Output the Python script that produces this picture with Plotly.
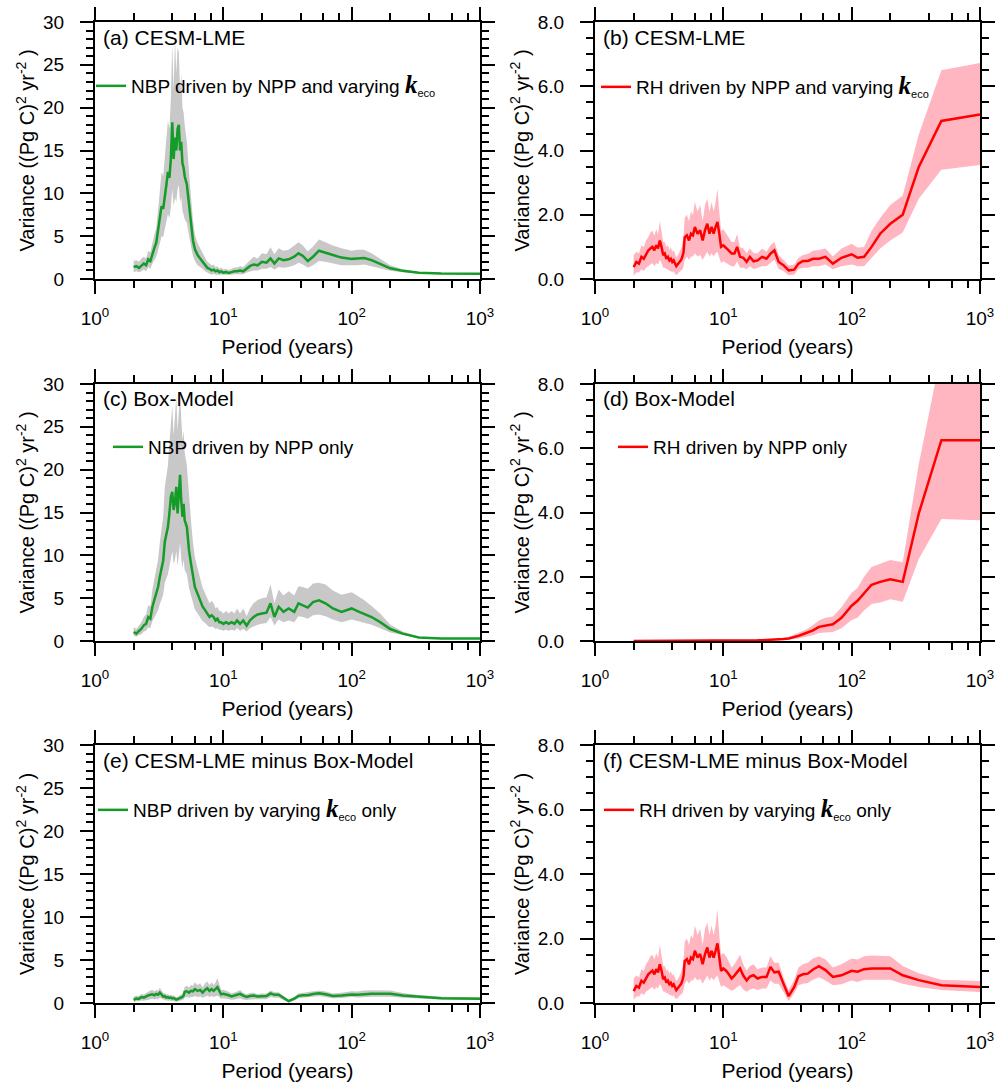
import plotly.graph_objects as go

# ---------------- data ----------------
period = [2.0, 2.1, 2.2, 2.3, 2.4, 2.5, 2.6, 2.7, 2.8, 2.9,
          3.0, 3.1, 3.2, 3.3, 3.4, 3.5, 3.6, 3.7, 3.8, 3.9,
          4.0, 4.1, 4.2, 4.3, 4.4, 4.5, 4.6, 4.7, 4.8, 4.9,
          5.0, 5.2, 5.4, 5.6, 5.8, 6.0, 6.3, 6.6, 6.9, 7.2,
          7.5, 7.8, 8.1, 8.4, 8.7, 9.0, 9.3, 9.6, 10.0, 10.5,
          11.0, 11.6, 12.2, 12.8, 13.5, 14.3, 15.2, 16.1, 17.2, 18.5,
          20.0, 21.7, 23.3, 25.0, 27.0, 29.4, 32.3, 35.7, 38.5, 41.7,
          45.5, 50.0, 55.6, 62.5, 71.4, 83.3, 100.0, 111.1, 125.0, 142.9,
          166.7, 200.0, 250.0, 333.3, 500.0, 1000.0]

# (a) CESM-LME NBP
a_mean = [1.4, 1.5, 1.3, 1.6, 1.8, 1.6, 2.3, 2.1, 3.0, 3.6,
          4.2, 5.5, 7.0, 8.5, 8.2, 10.0, 11.0, 12.5, 11.8, 14.0,
          18.3, 14.0, 16.5, 15.0, 17.5, 18.0, 15.0, 16.0, 13.5, 13.0,
          12.0, 11.0, 8.5, 6.5, 4.5, 3.5, 2.8, 2.4, 2.0, 1.6,
          1.3, 1.2, 1.0, 1.1, 0.9, 1.0, 0.8, 0.9, 0.75, 0.8,
          0.7, 0.8, 0.9, 0.9, 1.0, 0.9, 1.2, 1.5, 1.7, 1.6,
          2.0, 1.9, 2.4, 1.8, 2.4, 2.2, 2.3, 2.6, 3.0, 2.7,
          2.1, 2.6, 3.3, 3.1, 2.8, 2.5, 2.35, 2.4, 2.45, 2.2,
          1.8, 1.25, 0.95, 0.72, 0.63, 0.62]
a_hi = [2.1, 2.2, 2.0, 2.4, 2.6, 2.4, 3.3, 3.1, 4.2, 5.0,
        6.0, 8.0, 10.0, 12.5, 12.0, 14.5, 16.0, 18.5, 17.5, 21.0,
        27.5, 22.0, 28.0, 24.0, 27.0, 26.5, 22.0, 24.0, 20.0, 19.5,
        18.0, 16.0, 12.5, 9.5, 6.8, 5.2, 4.2, 3.6, 3.0, 2.4,
        2.0, 1.8, 1.6, 1.7, 1.4, 1.5, 1.2, 1.35, 1.1, 1.2,
        1.05, 1.2, 1.35, 1.35, 1.5, 1.4, 1.8, 2.2, 2.6, 2.4,
        3.0, 2.9, 3.7, 2.9, 3.6, 3.3, 3.4, 3.9, 4.3, 3.9,
        3.2, 3.8, 4.6, 4.3, 3.9, 3.6, 3.3, 3.4, 3.4, 3.0,
        2.4, 1.6, 1.15, 0.82, 0.7, 0.68]
a_lo = [0.8, 0.9, 0.8, 0.9, 1.1, 0.9, 1.4, 1.2, 1.8, 2.2,
        2.6, 3.3, 4.2, 5.0, 4.9, 6.0, 6.7, 7.6, 7.1, 8.4,
        10.5, 8.5, 9.5, 9.0, 10.5, 11.0, 9.0, 9.5, 8.0, 7.5,
        7.0, 6.5, 5.0, 3.8, 2.7, 2.1, 1.6, 1.4, 1.2, 0.9,
        0.7, 0.6, 0.5, 0.6, 0.5, 0.5, 0.45, 0.5, 0.45, 0.5,
        0.45, 0.5, 0.55, 0.55, 0.6, 0.55, 0.75, 0.9, 1.0, 1.0,
        1.2, 1.2, 1.4, 1.1, 1.4, 1.3, 1.4, 1.6, 1.9, 1.7,
        1.3, 1.6, 2.1, 2.0, 1.8, 1.6, 1.6, 1.6, 1.7, 1.5,
        1.3, 0.95, 0.8, 0.64, 0.56, 0.56]

# (b) CESM-LME RH
b_mean = [0.37, 0.53, 0.48, 0.69, 0.63, 0.79, 0.89, 0.95, 1.0, 0.89,
          1.05, 0.95, 1.2, 1.0, 0.74, 0.79, 0.63, 0.69, 0.58, 0.63,
          0.53, 0.58, 0.46, 0.40, 0.45, 0.5, 0.56, 0.6, 0.7, 0.85,
          1.3, 1.36, 1.2, 1.41, 1.36, 1.62, 1.41, 1.52, 1.2, 1.52,
          1.72, 1.41, 1.62, 1.41, 1.62, 1.78, 1.41, 1.0, 1.05, 0.95,
          0.89, 0.79, 0.79, 1.0, 0.69, 0.66, 0.53, 0.69, 0.55, 0.58,
          0.69, 0.63, 0.79, 0.89, 0.53, 0.43, 0.27, 0.29, 0.48, 0.56,
          0.56, 0.63, 0.63, 0.69, 0.48, 0.66, 0.77, 0.66, 0.69, 1.0,
          1.41, 1.72, 2.0, 3.49, 4.92, 5.12]
b_hi = [0.75, 0.85, 0.8, 1.05, 1.0, 1.2, 1.3, 1.45, 1.5, 1.35,
        1.55, 1.4, 1.8, 1.45, 1.15, 1.15, 1.0, 1.05, 0.9, 1.0,
        0.85, 0.9, 0.75, 0.68, 0.72, 0.8, 0.9, 0.95, 1.1, 1.35,
        1.9, 2.0, 1.8, 2.1, 2.0, 2.4, 2.1, 2.3, 1.8, 2.3,
        2.5, 2.1, 2.4, 2.1, 2.4, 2.8, 2.1, 1.5, 1.55, 1.4,
        1.3, 1.15, 1.15, 1.4, 1.0, 0.95, 0.8, 0.95, 0.8, 0.8,
        0.95, 0.85, 1.05, 1.15, 0.75, 0.6, 0.42, 0.45, 0.65, 0.75,
        0.78, 0.88, 0.9, 0.95, 0.7, 0.95, 1.1, 0.98, 1.0, 1.5,
        1.9, 2.3, 2.6, 4.5, 6.5, 6.72]
b_lo = [0.1, 0.2, 0.2, 0.3, 0.25, 0.35, 0.4, 0.45, 0.5, 0.4,
        0.5, 0.45, 0.6, 0.5, 0.35, 0.35, 0.3, 0.3, 0.25, 0.25,
        0.2, 0.25, 0.15, 0.13, 0.15, 0.2, 0.25, 0.27, 0.3, 0.4,
        0.6, 0.7, 0.6, 0.7, 0.7, 0.8, 0.7, 0.75, 0.6, 0.75,
        0.85, 0.7, 0.8, 0.7, 0.8, 0.85, 0.7, 0.5, 0.55, 0.5,
        0.45, 0.4, 0.4, 0.55, 0.35, 0.35, 0.3, 0.4, 0.3, 0.35,
        0.4, 0.4, 0.5, 0.6, 0.3, 0.25, 0.12, 0.14, 0.3, 0.35,
        0.35, 0.4, 0.4, 0.45, 0.3, 0.4, 0.45, 0.4, 0.4, 0.65,
        0.95, 1.2, 1.45, 2.5, 3.4, 3.55]

# (c) Box-Model NBP
c_mean = [1.05, 0.86, 1.17, 1.44, 1.83, 2.0, 2.8, 2.6, 4.0, 4.75,
          5.3, 6.3, 7.5, 8.3, 9.4, 11.6, 12.5, 13.3, 14.9, 16.8,
          17.4, 15.3, 16.2, 18.0, 14.9, 17.2, 19.4, 16.4, 14.5, 16.0,
          14.1, 13.3, 10.6, 9.0, 7.5, 6.3, 5.5, 4.75, 4.0, 3.6,
          3.2, 2.8, 3.0, 2.8, 2.4, 2.6, 2.2, 2.2, 2.0, 2.2,
          2.0, 2.2, 2.0, 2.4, 2.0, 2.4, 1.8, 2.4, 2.8, 3.1,
          3.2, 3.3, 4.4, 2.8, 4.0, 3.4, 3.8, 3.4, 4.4, 4.2,
          3.9, 4.55, 4.75, 4.4, 3.8, 3.4, 3.8, 3.5, 3.2, 2.8,
          2.2, 1.4, 0.86, 0.4, 0.28, 0.28]
c_hi = [1.6, 1.4, 1.8, 2.2, 2.8, 3.1, 4.2, 4.0, 6.0, 7.2,
        8.0, 9.5, 11.5, 12.8, 14.5, 18.0, 19.5, 20.5, 23.0, 26.0,
        27.5, 24.0, 27.0, 28.5, 24.5, 27.5, 29.0, 26.0, 23.5, 24.5,
        22.0, 20.5, 16.5, 14.0, 11.5, 9.8, 8.5, 7.4, 6.2, 5.6,
        5.0, 4.4, 4.7, 4.4, 3.8, 4.0, 3.5, 3.5, 3.2, 3.5,
        3.2, 3.5, 3.2, 3.8, 3.2, 3.8, 2.9, 3.8, 4.4, 4.8,
        5.0, 5.1, 6.6, 4.4, 6.0, 5.3, 5.8, 5.3, 6.4, 6.3,
        6.1, 6.7, 6.8, 6.6, 5.9, 5.4, 5.7, 5.3, 4.8, 4.1,
        3.2, 1.9, 1.1, 0.5, 0.32, 0.32]
c_lo = [0.6, 0.5, 0.7, 0.8, 1.1, 1.2, 1.6, 1.5, 2.3, 2.8,
        3.1, 3.6, 4.3, 4.8, 5.4, 6.8, 7.2, 7.8, 8.7, 9.8,
        10.5, 9.0, 9.5, 10.5, 8.8, 10.0, 11.5, 9.6, 8.5, 9.5,
        8.3, 7.8, 6.2, 5.3, 4.4, 3.7, 3.2, 2.8, 2.3, 2.1,
        1.9, 1.6, 1.7, 1.6, 1.4, 1.5, 1.3, 1.3, 1.2, 1.3,
        1.2, 1.3, 1.2, 1.5, 1.2, 1.4, 1.1, 1.5, 1.7, 1.9,
        2.0, 2.1, 2.8, 1.8, 2.5, 2.2, 2.4, 2.2, 2.9, 2.8,
        2.6, 3.0, 3.1, 2.9, 2.5, 2.2, 2.5, 2.3, 2.1, 1.9,
        1.5, 1.0, 0.7, 0.32, 0.24, 0.24]

# (d) Box-Model RH
d_mean = [0.0, 0.0, 0.0, 0.0, 0.0, 0.0, 0.0, 0.0, 0.0, 0.0,
          0.0, 0.0, 0.0, 0.0, 0.0, 0.0, 0.0, 0.0, 0.0, 0.0,
          0.0, 0.0, 0.0, 0.0, 0.0, 0.0, 0.0, 0.0, 0.0, 0.0,
          0.0, 0.0, 0.0, 0.0, 0.0, 0.0, 0.0, 0.0, 0.0, 0.0,
          0.0, 0.0, 0.0, 0.0, 0.0, 0.0, 0.0, 0.0, 0.003, 0.004,
          0.005, 0.006, 0.007, 0.008, 0.01, 0.011, 0.013, 0.015, 0.017, 0.02,
          0.025, 0.03, 0.035, 0.04, 0.05, 0.06, 0.08, 0.12, 0.16, 0.21,
          0.26, 0.33, 0.44, 0.48, 0.52, 0.72, 1.1, 1.25, 1.47, 1.75,
          1.84, 1.92, 1.84, 3.97, 6.25, 6.25]
d_hi = [0.0, 0.0, 0.0, 0.0, 0.0, 0.0, 0.0, 0.0, 0.0, 0.0,
        0.0, 0.0, 0.0, 0.0, 0.0, 0.0, 0.0, 0.0, 0.0, 0.0,
        0.0, 0.0, 0.0, 0.0, 0.0, 0.0, 0.0, 0.0, 0.0, 0.0,
        0.0, 0.0, 0.0, 0.0, 0.0, 0.0, 0.0, 0.0, 0.0, 0.0,
        0.0, 0.0, 0.0, 0.0, 0.0, 0.0, 0.0, 0.0, 0.005, 0.006,
        0.008, 0.009, 0.01, 0.012, 0.015, 0.017, 0.02, 0.023, 0.026, 0.03,
        0.04, 0.045, 0.055, 0.06, 0.075, 0.09, 0.12, 0.2, 0.26, 0.32,
        0.38, 0.5, 0.64, 0.72, 0.76, 1.05, 1.5, 1.65, 2.0, 2.3,
        2.4, 2.52, 2.45, 5.5, 9.0, 9.0]
d_lo = [0.0, 0.0, 0.0, 0.0, 0.0, 0.0, 0.0, 0.0, 0.0, 0.0,
        0.0, 0.0, 0.0, 0.0, 0.0, 0.0, 0.0, 0.0, 0.0, 0.0,
        0.0, 0.0, 0.0, 0.0, 0.0, 0.0, 0.0, 0.0, 0.0, 0.0,
        0.0, 0.0, 0.0, 0.0, 0.0, 0.0, 0.0, 0.0, 0.0, 0.0,
        0.0, 0.0, 0.0, 0.0, 0.0, 0.0, 0.0, 0.0, 0.001, 0.002,
        0.003, 0.003, 0.004, 0.005, 0.006, 0.006, 0.007, 0.008, 0.009, 0.01,
        0.012, 0.015, 0.018, 0.02, 0.025, 0.03, 0.04, 0.06, 0.08, 0.11,
        0.14, 0.18, 0.25, 0.26, 0.28, 0.4, 0.65, 0.72, 0.95, 1.15,
        1.2, 1.3, 1.22, 2.55, 3.8, 3.76]

# (f) CESM-LME minus Box-Model, RH
f_mean = [0.37, 0.53, 0.48, 0.69, 0.63, 0.79, 0.89, 0.95, 1.0, 0.89,
          1.05, 0.95, 1.2, 1.0, 0.74, 0.79, 0.63, 0.69, 0.58, 0.63,
          0.53, 0.58, 0.46, 0.40, 0.45, 0.5, 0.56, 0.6, 0.7, 0.85,
          1.3, 1.36, 1.2, 1.41, 1.36, 1.62, 1.41, 1.52, 1.2, 1.52,
          1.72, 1.41, 1.62, 1.41, 1.62, 1.85, 1.41, 1.0, 1.07, 1.0,
          0.9, 0.76, 0.85, 0.95, 1.07, 0.85, 0.7, 0.82, 0.86, 0.76,
          0.81, 0.81, 1.12, 0.95, 0.97, 0.6, 0.21, 0.5, 0.83, 0.89,
          0.91, 1.04, 1.14, 1.02, 0.81, 0.86, 1.0, 0.97, 1.05, 1.07,
          1.07, 1.07, 0.86, 0.71, 0.55, 0.5]
f_hi = [0.75, 0.85, 0.8, 1.05, 1.0, 1.2, 1.3, 1.45, 1.5, 1.35,
        1.55, 1.4, 1.8, 1.45, 1.15, 1.15, 1.0, 1.05, 0.9, 1.0,
        0.85, 0.9, 0.75, 0.68, 0.72, 0.8, 0.9, 0.95, 1.1, 1.35,
        1.9, 2.0, 1.8, 2.1, 2.0, 2.4, 2.1, 2.3, 1.8, 2.3,
        2.5, 2.1, 2.4, 2.1, 2.4, 2.9, 2.1, 1.5, 1.55, 1.45,
        1.3, 1.1, 1.2, 1.35, 1.5, 1.2, 1.0, 1.15, 1.2, 1.05,
        1.1, 1.1, 1.45, 1.25, 1.25, 0.8, 0.4, 0.72, 1.1, 1.2,
        1.25, 1.38, 1.45, 1.35, 1.1, 1.2, 1.38, 1.35, 1.45, 1.47,
        1.47, 1.45, 1.15, 0.92, 0.72, 0.68]
f_lo = [0.1, 0.2, 0.2, 0.3, 0.25, 0.35, 0.4, 0.45, 0.5, 0.4,
        0.5, 0.45, 0.6, 0.5, 0.35, 0.35, 0.3, 0.3, 0.25, 0.25,
        0.2, 0.25, 0.15, 0.13, 0.15, 0.2, 0.25, 0.27, 0.3, 0.4,
        0.6, 0.7, 0.6, 0.7, 0.7, 0.8, 0.7, 0.75, 0.6, 0.75,
        0.85, 0.7, 0.8, 0.7, 0.8, 0.85, 0.7, 0.5, 0.55, 0.5,
        0.45, 0.38, 0.42, 0.5, 0.55, 0.42, 0.35, 0.42, 0.45, 0.4,
        0.45, 0.45, 0.7, 0.6, 0.6, 0.35, 0.06, 0.3, 0.55, 0.6,
        0.62, 0.72, 0.8, 0.7, 0.55, 0.58, 0.7, 0.65, 0.72, 0.72,
        0.72, 0.72, 0.6, 0.5, 0.4, 0.34]

# (e) CESM-LME minus Box-Model, NBP (same curve as (f) in the picture)
e_mean = list(f_mean)
e_hi = list(f_hi)
e_lo = list(f_lo)

x_tickvals = [1, 10, 100, 1000]
x_ticktext = ["10<sup>0</sup>", "10<sup>1</sup>", "10<sup>2</sup>", "10<sup>3</sup>"]
x_minorvals = [2, 4, 6, 8, 20, 40, 60, 80, 200, 400, 600, 800]

panel_titles = ["(a) CESM-LME", "(b) CESM-LME", "(c) Box-Model", "(d) Box-Model",
                "(e) CESM-LME minus Box-Model", "(f) CESM-LME minus Box-Model"]
K = ("<span style=\"font-family:'Liberation Serif',serif;font-size:25px\"><b><i>k</i></b></span>"
     "<sub><span style=\"font-size:11px\">eco</span></sub>")
legend_texts = ["NBP driven by NPP and varying " + K,
                "RH driven by NPP and varying " + K,
                "NBP driven by NPP only",
                "RH driven by NPP only",
                "NBP driven by varying " + K + " only",
                "RH driven by varying " + K + " only"]

# ---------------- styles / layout ----------------
W, H = 1005, 1084
FONT = "Liberation Sans, Arial, Helvetica, sans-serif"
GREEN = "rgb(20,155,40)"
RED = "rgb(255,0,0)"
GRAY = "rgb(200,200,200)"
PINK = "rgb(255,182,193)"

col_px = [(95, 480), (595, 980)]
row_px = [(22, 279), (384, 641), (745, 1003)]
legend_px = [(96, 86), (601, 87), (113, 447), (618, 447), (98, 810), (604, 810)]

series = [(a_mean, a_lo, a_hi, GREEN, GRAY, 30),
          (b_mean, b_lo, b_hi, RED, PINK, 8),
          (c_mean, c_lo, c_hi, GREEN, GRAY, 30),
          (d_mean, d_lo, d_hi, RED, PINK, 8),
          (e_mean, e_lo, e_hi, GREEN, GRAY, 30),
          (f_mean, f_lo, f_hi, RED, PINK, 8)]

fig = go.Figure()
layout = dict(width=W, height=H, margin=dict(l=0, r=0, t=0, b=0),
              template="none", paper_bgcolor="white", plot_bgcolor="white",
              font=dict(family=FONT, color="black", size=19),
              showlegend=True, annotations=[])

for i, (mean, lo, hi, lc, bc, ymax) in enumerate(series, start=1):
    r, c = (i - 1) // 2, (i - 1) % 2
    x0, x1 = col_px[c]
    top, bot = row_px[r]
    xa = "x" if i == 1 else f"x{i}"
    ya = "y" if i == 1 else f"y{i}"
    lg = "legend" if i == 1 else f"legend{i}"

    fig.add_trace(go.Scatter(x=period, y=lo, xaxis=xa, yaxis=ya, mode="lines",
                             line=dict(width=0, color=bc), showlegend=False, hoverinfo="skip"))
    fig.add_trace(go.Scatter(x=period, y=hi, xaxis=xa, yaxis=ya, mode="lines",
                             line=dict(width=0, color=bc), fill="tonexty", fillcolor=bc,
                             showlegend=False, hoverinfo="skip"))
    fig.add_trace(go.Scatter(x=period, y=mean, xaxis=xa, yaxis=ya, mode="lines",
                             line=dict(width=2.5, color=lc), name=legend_texts[i - 1],
                             legend=lg, showlegend=True))

    xkey = "xaxis" if i == 1 else f"xaxis{i}"
    ykey = "yaxis" if i == 1 else f"yaxis{i}"
    layout[xkey] = dict(
        type="log", range=[0, 3], domain=[x0 / W, x1 / W], anchor=ya,
        tickmode="array", tickvals=x_tickvals, ticktext=x_ticktext,
        ticks="outside", ticklen=13, tickwidth=2, tickcolor="black",
        showline=True, linewidth=2, linecolor="black", mirror="ticks",
        showgrid=False, zeroline=False, automargin=False,
        ticklabelstandoff=8,
        minor=dict(tickmode="array", tickvals=x_minorvals, ticks="outside",
                   ticklen=7, tickwidth=1.5, tickcolor="black", showgrid=False),
        tickfont=dict(family=FONT, size=19, color="black"),
        title=dict(text="Period (years)", font=dict(family=FONT, size=21, color="black"),
                   standoff=12))
    step = 5 if ymax == 30 else 2
    layout[ykey] = dict(
        range=[0, ymax], domain=[1 - bot / H, 1 - top / H], anchor=xa,
        tickmode="linear", tick0=0, dtick=step,
        tickformat="d" if ymax == 30 else ".1f",
        ticks="outside", ticklen=13, tickwidth=2, tickcolor="black",
        showline=True, linewidth=2, linecolor="black", mirror="ticks",
        showgrid=False, zeroline=False, automargin=False,
        ticklabelstandoff=12,
        minor=dict(dtick=1 if ymax == 30 else 0.5, ticks="outside", ticklen=7,
                   tickwidth=1.5, tickcolor="black", showgrid=False),
        tickfont=dict(family=FONT, size=19, color="black"),
        title=dict(text="Variance ((Pg C)<sup>2</sup> yr<sup>-2</sup> )",
                   font=dict(family=FONT, size=20, color="black"), standoff=3))

    lx, ly = legend_px[i - 1]
    layout[lg] = dict(x=(lx - 5) / W, y=1 - ly / H, xref="paper", yref="paper",
                      xanchor="left", yanchor="middle", bgcolor="rgba(0,0,0,0)",
                      borderwidth=0, itemwidth=30,
                      font=dict(family=FONT, size=19, color="black"))

    layout["annotations"].append(dict(
        text=panel_titles[i - 1], xref="paper", yref="paper",
        x=(x0 + 6) / W, y=1 - (top + 15) / H, xanchor="left", yanchor="middle",
        showarrow=False, font=dict(family=FONT, size=21, color="black")))

fig.update_layout(**layout)
fig.write_html("out.html")
